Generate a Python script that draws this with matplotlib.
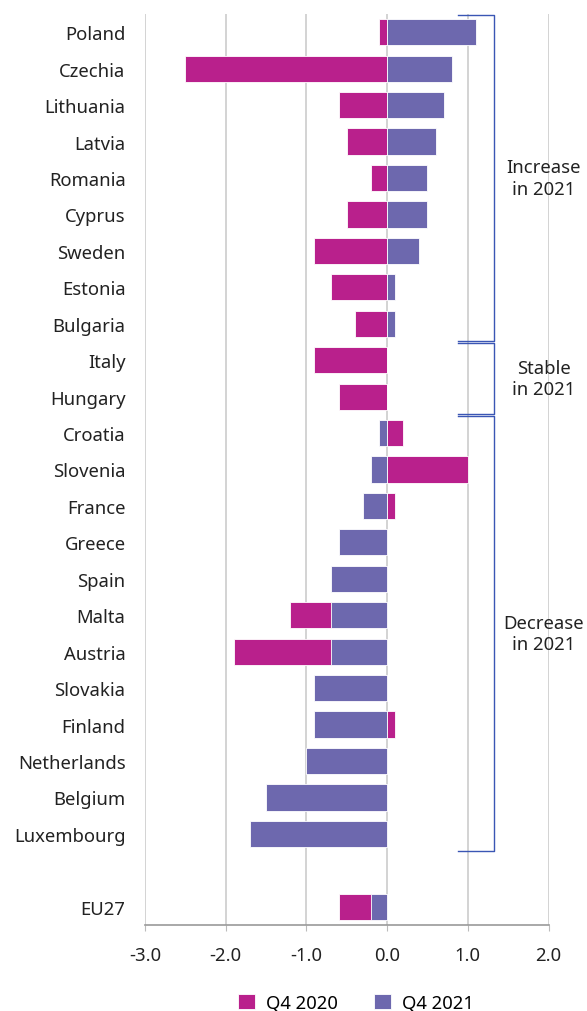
import matplotlib
matplotlib.use("Agg")
import matplotlib.pyplot as plt
import numpy as np

countries = ["Poland", "Czechia", "Lithuania", "Latvia", "Romania", "Cyprus", "Sweden",
             "Estonia", "Bulgaria", "Italy", "Hungary", "Croatia", "Slovenia", "France",
             "Greece", "Spain", "Malta", "Austria", "Slovakia", "Finland", "Netherlands",
             "Belgium", "Luxembourg", "EU27"]
q4_2020 = [-0.1, -2.5, -0.6, -0.5, -0.2, -0.5, -0.9, -0.7, -0.4, -0.9, -0.6, 0.2, 1.0, 0.1,
           -0.3, -0.4, -1.2, -1.9, -0.7, 0.1, -0.3, -0.3, -0.4, -0.6]
q4_2021 = [1.1, 0.8, 0.7, 0.6, 0.5, 0.5, 0.4, 0.1, 0.1, 0.0, 0.0, -0.1, -0.2, -0.3,
           -0.6, -0.7, -0.7, -0.7, -0.9, -0.9, -1.0, -1.5, -1.7, -0.2]
xticks = [-3.0, -2.0, -1.0, 0.0, 1.0, 2.0]
groups = [("Increase\nin 2021", 0, 8), ("Stable\nin 2021", 9, 10), ("Decrease\nin 2021", 11, 22)]

plt.rcParams['font.family'] = ['Noto Sans', 'DejaVu Sans']
C20 = "#B9208C"
C21 = "#6D68AE"
BR = "#3A56B4"
FS = 13.3

fig = plt.figure(figsize=(5.87, 10.12), dpi=100)
ax = fig.add_axes([145/587, 1 - 926/1012, (548.5-145)/587, (926-15)/1012])

pos = [i if i < 23 else 24 for i in range(len(countries))]
h = 0.72
ax.barh(pos, q4_2020, height=h, color=C20, edgecolor="white", linewidth=0.6, label="Q4 2020", zorder=2)
ax.barh(pos, q4_2021, height=h, color=C21, edgecolor="white", linewidth=0.6, label="Q4 2021", zorder=3)

ax.set_xlim(-3, 2)
ax.set_ylim(24.5, -0.5)
ax.set_xticks(xticks)
ax.set_xticklabels([f"{t:.1f}" for t in xticks], fontsize=FS, color="#222222")
ax.set_yticks(pos)
ax.set_yticklabels(countries, fontsize=FS, color="#222222")
ax.tick_params(axis="y", length=0, pad=14)
ax.tick_params(axis="x", length=4, color="#bbbbbb", pad=11)
ax.grid(axis="x", color="#cccccc", linewidth=1.2, zorder=0)
ax.set_axisbelow(True)
for s in ["top", "right", "left"]:
    ax.spines[s].set_visible(False)
ax.spines["bottom"].set_color("#999999")
ax.spines["bottom"].set_linewidth(1.2)

# brackets
for label, a, b in groups:
    y0 = a - 0.47
    y1 = b + 0.47
    ax.plot([0.88, 1.33, 1.33, 0.88], [y0, y0, y1, y1], color=BR, linewidth=1.0,
            clip_on=False, zorder=4)
    ax.text(1.94, (a + b) / 2, label, ha="center", va="center", fontsize=FS,
            color="#222222", clip_on=False, linespacing=1.25)

handles, labels = ax.get_legend_handles_labels()
fig.legend(handles, labels, loc="center", bbox_to_anchor=(356/587, 1 - 1004/1012), ncol=2,
           frameon=False, fontsize=FS, handlelength=0.9, handleheight=0.9,
           columnspacing=2.0, handletextpad=0.6)

fig.savefig("out.png", dpi=100)
